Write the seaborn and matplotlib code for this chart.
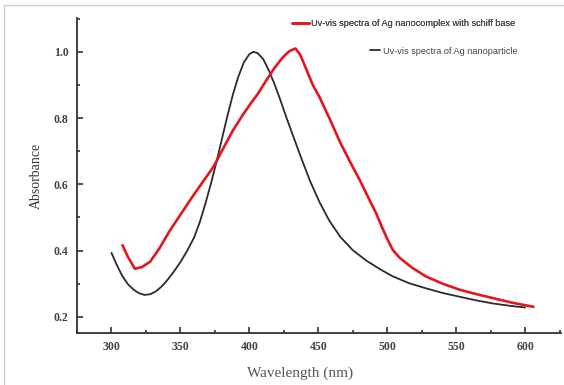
import matplotlib
matplotlib.use('Agg')
import matplotlib.pyplot as plt
import seaborn as sns
import pandas as pd
from matplotlib.ticker import MultipleLocator
from matplotlib.patches import Rectangle

# Ag nanoparticle (black curve)
np_wavelength = [300, 304, 308, 312, 316, 320, 324, 328, 332, 336, 340, 345, 350, 355,
                 360, 364, 368, 372, 376, 380, 384, 388, 392, 396, 400, 403, 406, 410,
                 414, 418, 422, 427, 432, 438, 444, 451, 458, 466, 475, 485, 495, 504,
                 516, 528, 540, 553, 565, 577, 589, 600]
np_absorb = [0.393, 0.355, 0.322, 0.298, 0.282, 0.271, 0.266, 0.268, 0.276, 0.290, 0.308,
             0.335, 0.365, 0.400, 0.440, 0.485, 0.540, 0.600, 0.665, 0.735, 0.805, 0.870,
             0.925, 0.968, 0.993, 1.000, 0.996, 0.978, 0.945, 0.905, 0.860, 0.800, 0.743,
             0.675, 0.610, 0.545, 0.490, 0.441, 0.401, 0.369, 0.343, 0.322, 0.301, 0.286,
             0.272, 0.260, 0.249, 0.240, 0.233, 0.228]

# Ag nanocomplex with schiff base (red curve)
nc_wavelength = [308, 312, 317, 322, 328, 335, 342, 350, 357, 365, 374, 381, 388, 395,
                 401, 406, 412, 418, 424, 429, 433.5, 437, 446, 451, 458, 466, 473, 480,
                 486, 492, 496, 500, 504, 509, 518, 528, 540, 553, 565, 577, 590, 606]
nc_absorb = [0.416, 0.380, 0.345, 0.350, 0.366, 0.408, 0.458, 0.508, 0.552, 0.600, 0.653,
             0.708, 0.762, 0.808, 0.844, 0.872, 0.912, 0.950, 0.982, 1.002, 1.010, 0.990,
             0.900, 0.862, 0.800, 0.725, 0.668, 0.613, 0.562, 0.512, 0.472, 0.435, 0.402,
             0.378, 0.348, 0.322, 0.300, 0.281, 0.268, 0.256, 0.243, 0.230]

label_nc = 'Uv-vis spectra of Ag nanocomplex with schiff base'
label_np = 'Uv-vis spectra of Ag nanoparticle'

df_nc = pd.DataFrame({'Wavelength': nc_wavelength, 'Absorbance': nc_absorb})
df_np = pd.DataFrame({'Wavelength': np_wavelength, 'Absorbance': np_absorb})

sns.set_style('ticks')
serif = ['Liberation Serif', 'DejaVu Serif']

fig = plt.figure(figsize=(5.64, 3.85), dpi=100)
ax = fig.add_axes([77 / 564, 1 - 333 / 385, (561 - 77) / 564, (333 - 18) / 385])

sns.lineplot(data=df_np, x='Wavelength', y='Absorbance', ax=ax, color='#2b2b2b',
             linewidth=1.3, sort=False, label=label_np)
sns.lineplot(data=df_nc, x='Wavelength', y='Absorbance', ax=ax, color='#e3161d',
             linewidth=1.9, sort=False, label=label_nc)

ax.set_xlim(275, 626)
ax.set_ylim(0.151, 1.102)
ax.xaxis.set_major_locator(MultipleLocator(50))
ax.xaxis.set_minor_locator(MultipleLocator(25))
ax.yaxis.set_major_locator(MultipleLocator(0.2))
ax.yaxis.set_minor_locator(MultipleLocator(0.1))
ax.yaxis.set_major_formatter(plt.FuncFormatter(lambda v, p: f'{v:.1f}'))
ax.tick_params(which='major', direction='in', length=4, width=1.2, colors='#333333',
               labelsize=8.5, pad=6)
ax.tick_params(which='minor', direction='in', length=2, width=1.2, colors='#333333')
for lab in ax.get_xticklabels() + ax.get_yticklabels():
    lab.set_family(serif)
    lab.set_fontweight('bold')
    lab.set_color('#444444')

sns.despine(ax=ax)
for s in ['left', 'bottom']:
    ax.spines[s].set_linewidth(1.3)
    ax.spines[s].set_color('#333333')

ax.set_xlabel('Wavelength (nm)', family=serif, fontsize=11, color='#555555', labelpad=8)
ax.set_ylabel('Absorbance', family=serif, fontsize=10, color='#333333', labelpad=8)
ax.xaxis.set_label_coords((300 - 77) / 484, -0.105)

# legends placed separately, like the original
handles, labels = ax.get_legend_handles_labels()
ax.get_legend().remove()
lmap = dict(zip(labels, handles))
leg1 = fig.legend([lmap[label_nc]], [label_nc], loc='center left',
                  bbox_to_anchor=(292 / 564, 1 - 24 / 385), frameon=False,
                  prop={'family': 'Liberation Sans', 'size': 6.6}, handlelength=1.8,
                  handletextpad=0.3, borderpad=0, borderaxespad=0)
leg2 = fig.legend([lmap[label_np]], [label_np], loc='center left',
                  bbox_to_anchor=(370 / 564, 1 - 51 / 385), frameon=False,
                  prop={'family': 'Liberation Sans', 'size': 6.6}, handlelength=1.1,
                  handletextpad=0.3, borderpad=0, borderaxespad=0)
for leg in (leg1, leg2):
    for t in leg.get_texts():
        t.set_color('#444444')
fig.add_artist(leg1)

# thin grey frame of the original image
fig.add_artist(Rectangle((4 / 564, -0.1), 1.2, 1 - 5 / 385 + 0.1, transform=fig.transFigure,
                         fill=False, edgecolor='#cccccc', linewidth=1.0))

fig.savefig('out.png', dpi=100)
